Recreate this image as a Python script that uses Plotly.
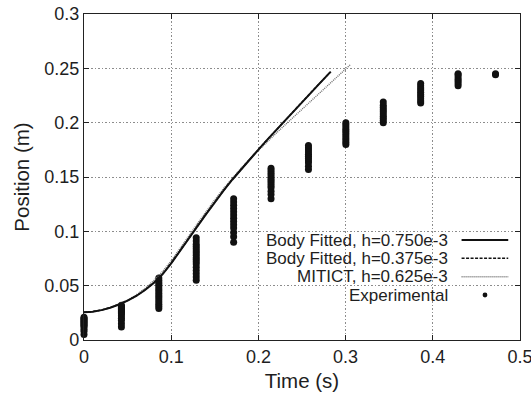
import plotly.graph_objects as go

# ---- data ----
t_bf750 = [0, 0.01, 0.02, 0.03, 0.04, 0.05, 0.06, 0.07, 0.08, 0.09, 0.10, 0.11, 0.12, 0.13,
           0.14, 0.15, 0.16, 0.17, 0.18, 0.19, 0.20, 0.21, 0.22, 0.23, 0.24, 0.25, 0.26, 0.27, 0.28, 0.283]
y_bf750 = [0.0255, 0.0261, 0.0275, 0.0297, 0.0327, 0.0362, 0.0405, 0.0460, 0.0525, 0.0605, 0.0705,
           0.0815, 0.0930, 0.1045, 0.1158, 0.1268, 0.1374, 0.1475, 0.1570, 0.1662, 0.1752, 0.1841,
           0.1929, 0.2016, 0.2102, 0.2188, 0.2274, 0.2359, 0.2444, 0.2470]

t_bf375 = [0, 0.01, 0.02, 0.03, 0.04, 0.05, 0.06, 0.07, 0.08, 0.09, 0.10, 0.11, 0.12, 0.13,
           0.14, 0.15, 0.16, 0.17, 0.18, 0.19, 0.20, 0.21, 0.22, 0.23, 0.24, 0.25, 0.26, 0.27, 0.28, 0.282]
y_bf375 = [0.0255, 0.0261, 0.0275, 0.0297, 0.0328, 0.0363, 0.0406, 0.0461, 0.0527, 0.0607, 0.0707,
           0.0817, 0.0932, 0.1047, 0.1160, 0.1270, 0.1375, 0.1476, 0.1571, 0.1663, 0.1753, 0.1842,
           0.1930, 0.2017, 0.2103, 0.2189, 0.2275, 0.2360, 0.2445, 0.2462]

t_mitict = [0, 0.01, 0.02, 0.03, 0.04, 0.05, 0.06, 0.07, 0.08, 0.09, 0.10, 0.11, 0.12, 0.13, 0.14,
            0.15, 0.16, 0.17, 0.18, 0.19, 0.20, 0.21, 0.22, 0.23, 0.24, 0.25, 0.26, 0.27, 0.28,
            0.29, 0.30, 0.306]
y_mitict = [0.0255, 0.0261, 0.0276, 0.0299, 0.0331, 0.0368, 0.0415, 0.0475, 0.0547, 0.0630, 0.0728,
            0.0838, 0.0955, 0.1070, 0.1182, 0.1290, 0.1393, 0.1490, 0.1580, 0.1665, 0.1746, 0.1824,
            0.1900, 0.1975, 0.2050, 0.2124, 0.2198, 0.2272, 0.2346, 0.2420, 0.2494, 0.2538]

exp_times = [0.0, 0.0429, 0.0858, 0.1287, 0.1716, 0.2145, 0.2574, 0.3003, 0.3432, 0.3861, 0.4290, 0.4719]
exp_values = [
    [0.005, 0.008, 0.010, 0.012, 0.013, 0.014, 0.015, 0.016, 0.017, 0.018, 0.019, 0.020, 0.021],
    [0.012, 0.015, 0.018, 0.020, 0.022, 0.024, 0.025, 0.026, 0.027, 0.028, 0.029, 0.030, 0.031, 0.032],
    [0.029, 0.031, 0.033, 0.035, 0.037, 0.039, 0.041, 0.043, 0.045, 0.047, 0.049, 0.051, 0.053, 0.055, 0.057],
    [0.055, 0.058, 0.061, 0.064, 0.067, 0.070, 0.072, 0.074, 0.076, 0.078, 0.080, 0.082, 0.084, 0.086,
     0.088, 0.091, 0.094],
    [0.090, 0.095, 0.099, 0.103, 0.106, 0.109, 0.112, 0.115, 0.118, 0.121, 0.124, 0.127, 0.130],
    [0.130, 0.134, 0.137, 0.140, 0.142, 0.144, 0.146, 0.148, 0.150, 0.152, 0.154, 0.156, 0.158],
    [0.157, 0.160, 0.163, 0.165, 0.167, 0.169, 0.171, 0.173, 0.175, 0.177, 0.179],
    [0.180, 0.182, 0.184, 0.186, 0.188, 0.190, 0.192, 0.194, 0.196, 0.198, 0.200],
    [0.200, 0.202, 0.204, 0.206, 0.208, 0.210, 0.212, 0.214, 0.216, 0.219],
    [0.218, 0.220, 0.222, 0.224, 0.226, 0.228, 0.230, 0.232, 0.234, 0.236],
    [0.234, 0.236, 0.238, 0.240, 0.242, 0.244, 0.245],
    [0.244, 0.245],
]

x_ticks = [0, 0.1, 0.2, 0.3, 0.4, 0.5]
x_ticklabels = ["0", "0.1", "0.2", "0.3", "0.4", "0.5"]
y_ticks = [0, 0.05, 0.1, 0.15, 0.2, 0.25, 0.3]
y_ticklabels = ["0", "0.05", "0.1", "0.15", "0.2", "0.25", "0.3"]

legend_labels = ["Body Fitted, h=0.750e-3", "Body Fitted, h=0.375e-3",
                 "MITICT, h=0.625e-3", "Experimental"]

# ---- figure ----
FONT = "Liberation Sans, Arial, sans-serif"
TXT = "#1e1e1e"

exp_x, exp_y = [], []
for tt, vals in zip(exp_times, exp_values):
    exp_x += [tt] * len(vals)
    exp_y += vals

fig = go.Figure()
fig.add_trace(go.Scatter(x=exp_x, y=exp_y, mode="markers",
                         marker=dict(color="#111", size=7, line=dict(width=0)),
                         name=legend_labels[3], showlegend=False, cliponaxis=False))
fig.add_trace(go.Scatter(x=t_mitict, y=y_mitict, mode="lines",
                         line=dict(color="#707070", width=1.4, dash="1px,1px"),
                         name=legend_labels[2], showlegend=False))
fig.add_trace(go.Scatter(x=t_bf375, y=y_bf375, mode="lines",
                         line=dict(color="#111", width=1.5, dash="3px,1.5px"),
                         name=legend_labels[1], showlegend=False))
fig.add_trace(go.Scatter(x=t_bf750, y=y_bf750, mode="lines",
                         line=dict(color="#111", width=2),
                         name=legend_labels[0], showlegend=False))

# custom legend (right-aligned text with samples on the right)
shapes = [dict(type="rect", xref="paper", yref="paper", x0=0.273, x1=0.998, y0=0.113, y1=0.328,
               fillcolor="white", line=dict(width=0), layer="between")]
row_y = [0.3067, 0.2506, 0.1942, 0.1380]
line_styles = [dict(color="#111", width=2), dict(color="#111", width=1.5, dash="3px,1.5px"),
               dict(color="#707070", width=1.4, dash="1px,1px")]
annotations = []
for i, lab in enumerate(legend_labels):
    annotations.append(dict(x=0.8394, y=row_y[i], xref="paper", yref="paper", text=lab,
                            showarrow=False, xanchor="right", yanchor="middle",
                            font=dict(family=FONT, size=17, color=TXT)))
    if i < 3:
        shapes.append(dict(type="line", xref="paper", yref="paper", x0=0.866, x1=0.973,
                           y0=row_y[i], y1=row_y[i], line=line_styles[i], layer="above"))
    else:
        shapes.append(dict(type="circle", xref="paper", yref="paper",
                           x0=0.9197 - 0.0055, x1=0.9197 + 0.0055,
                           y0=row_y[i] - 0.0074, y1=row_y[i] + 0.0074,
                           fillcolor="#111", line=dict(width=0), layer="above"))

axis_common = dict(showline=True, linecolor="#222", linewidth=1.2, mirror="allticks",
                   ticks="inside", ticklen=5, tickcolor="#222", tickwidth=1,
                   showgrid=True, gridcolor="#8c8c8c", gridwidth=1, griddash="1.5px,2px",
                   zeroline=False, automargin=False, ticklabeloverflow="allow",
                   tickfont=dict(family=FONT, size=18, color=TXT))

fig.update_layout(
    width=531, height=396,
    margin=dict(l=84, r=11, t=14, b=56),
    paper_bgcolor="white", plot_bgcolor="white",
    showlegend=False,
    shapes=shapes, annotations=annotations,
    xaxis=dict(range=[0, 0.5], tickvals=x_ticks, ticktext=x_ticklabels,
               title=dict(text="Time (s)", font=dict(family=FONT, size=20.5, color=TXT), standoff=7),
               **axis_common),
    yaxis=dict(range=[0, 0.3], tickvals=y_ticks, ticktext=y_ticklabels,
               title=dict(text="Position (m)", font=dict(family=FONT, size=20.5, color=TXT), standoff=9),
               **axis_common),
)

fig.write_html("out.html")
